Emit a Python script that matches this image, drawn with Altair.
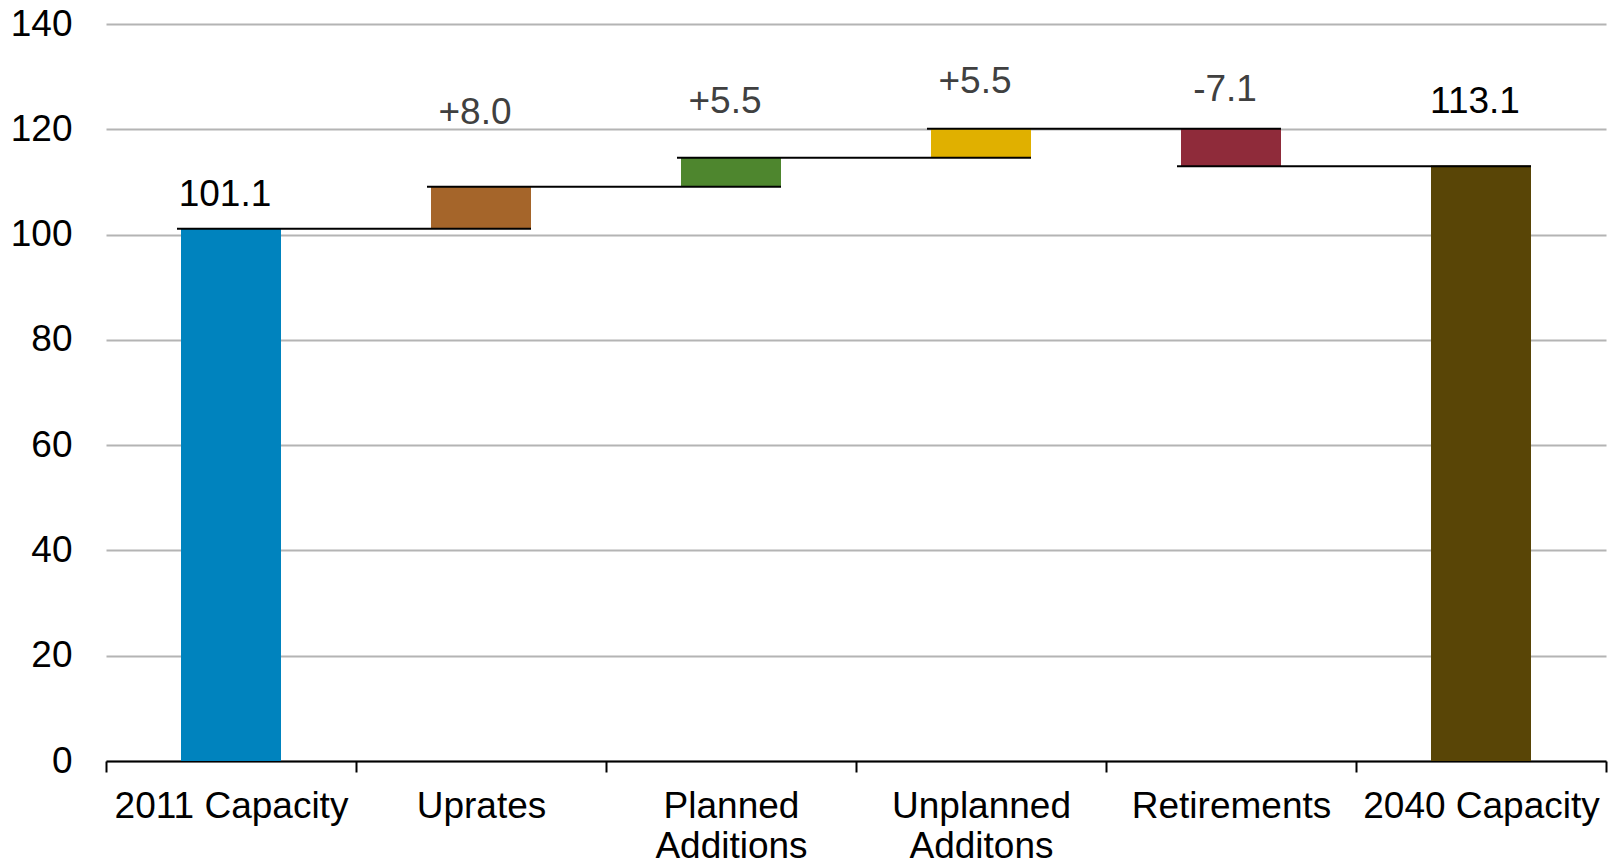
import altair as alt
import pandas as pd

# Nuclear capacity bridge, 2011 -> 2040 (GW)
categories = ["2011 Capacity", "Uprates", "Planned|Additions",
              "Unplanned|Additons", "Retirements", "2040 Capacity"]
start_capacity = 101.1
changes = [8.0, 5.5, 5.5, -7.1]
end_capacity = 113.1
y_ticks = [0, 20, 40, 60, 80, 100, 120, 140]

# styling
bar_colors = ["#0083BE", "#A5652A", "#4E862E", "#E0B000", "#8F2B3A", "#594506"]
text_colors = ["#000000", "#404040", "#404040", "#404040", "#404040", "#000000"]
label_lift = [4.4, 11.9, 8.4, 6.8, 5.3, 10.0]  # gap between bar top and its label, in GW
FONT = "Liberation Sans"

# floating bars: totals sit on zero, changes float on the running total
rows = [dict(cat=categories[0], lo=0.0, hi=start_capacity,
             text=f"{start_capacity:.1f}")]
levels = [start_capacity]
level = start_capacity
for cat, d in zip(categories[1:-1], changes):
    new = round(level + d, 1)
    rows.append(dict(cat=cat, lo=min(level, new), hi=max(level, new), text=f"{d:+.1f}"))
    level = new
    levels.append(level)
rows.append(dict(cat=categories[-1], lo=0.0, hi=end_capacity, text=f"{end_capacity:.1f}"))

bars = pd.DataFrame(rows)
bars["fill"] = bar_colors
bars["tcolor"] = text_colors
bars["label_y"] = bars["hi"] + pd.Series(label_lift)

links = pd.DataFrame({
    "src": categories[:-1],
    "dst": categories[1:],
    "level": levels,
})

x_scale = alt.Scale(domain=categories, paddingInner=0, paddingOuter=0)
y_scale = alt.Scale(domain=[0, 140], nice=False)

x_axis = alt.Axis(
    title=None, labelAngle=0, labelFont=FONT, labelFontSize=37,
    labelColor="#000000", labelExpr="split(datum.label, '|')",
    labelLineHeight=40, labelPadding=16, labelLimit=600, tickBand="extent",
    tickSize=11, tickWidth=2, tickColor="#000000",
    domainColor="#000000", domainWidth=2, grid=False)
y_axis = alt.Axis(
    title=None, values=y_ticks, labelFont=FONT, labelFontSize=37,
    labelColor="#000000", labelPadding=34, ticks=False, domain=False,
    grid=True, gridColor="#B4B4B4", gridWidth=2)

bar_layer = alt.Chart(bars).mark_bar(width=alt.RelativeBandSize(0.4)).encode(
    x=alt.X("cat:N", scale=x_scale, sort=categories, axis=x_axis),
    y=alt.Y("lo:Q", scale=y_scale, axis=y_axis),
    y2="hi:Q",
    color=alt.Color("fill:N", scale=None),
)

link_layer = alt.Chart(links).mark_rule(
    color="#000000", strokeWidth=2, xOffset=-54, x2Offset=50
).encode(
    x=alt.X("src:N", scale=x_scale, sort=categories, axis=x_axis),
    x2="dst:N",
    y=alt.Y("level:Q", scale=y_scale, axis=y_axis),
)

text_layer = alt.Chart(bars).mark_text(
    font=FONT, fontSize=37, baseline="alphabetic", align="center", dx=-6
).encode(
    x=alt.X("cat:N", scale=x_scale, sort=categories, axis=x_axis),
    y=alt.Y("label_y:Q", scale=y_scale, axis=y_axis),
    text="text:N",
    color=alt.Color("tcolor:N", scale=None),
)

chart = alt.layer(bar_layer, link_layer, text_layer).properties(
    width=1500, height=737,
    autosize=alt.AutoSizeParams(type="none"),
    padding={"left": 106, "top": 24, "right": 12, "bottom": 106},
    background="#ffffff",
).configure_view(stroke=None)

chart.save("out.html", embed_options={"renderer": "svg", "actions": False})
